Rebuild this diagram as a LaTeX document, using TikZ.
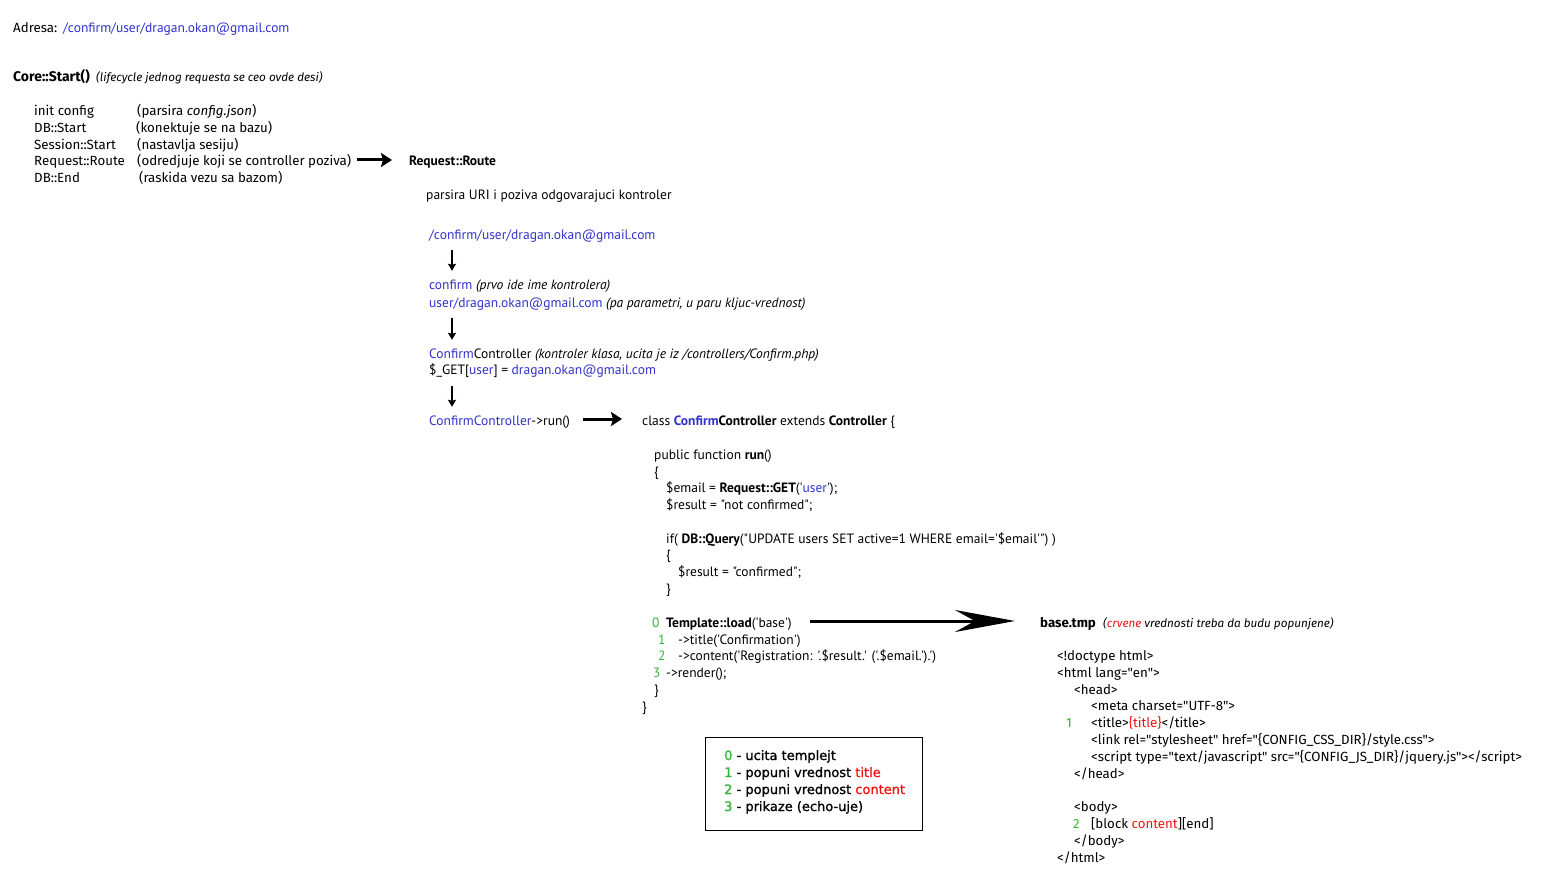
\documentclass[tikz,border=0pt]{standalone}
\usepackage{fontspec}
\setmainfont{PT Sans}[Ligatures=TeXOff]
\newfontfamily\firafont{Fira Sans}[Ligatures=TeXOff]
\newfontfamily\legfont{DejaVu Sans}[Ligatures=TeXOff, FakeBold=1.2]
\usetikzlibrary{arrows.meta, positioning}

\definecolor{urlblue}{RGB}{50,50,205}
\definecolor{numgreen}{RGB}{55,180,60}
\definecolor{fillred}{RGB}{240,20,20}
\newcommand{\bl}[1]{\textcolor{urlblue}{#1}}
\newcommand{\gr}[1]{\textcolor{numgreen}{#1}}
\newcommand{\rd}[1]{\textcolor{fillred}{#1}}

\begin{document}
\begin{tikzpicture}[
  x=1pt, y=-1pt,
  txt/.style={anchor=west, inner sep=0pt, text height=12pt, text depth=0pt},
  code/.style={txt, font=\fontsize{13.5}{16}\selectfont},
  plain/.style={txt, font=\firafont\fontsize{13.3}{16}\selectfont},
  head/.style={txt, font=\firafont\bfseries\fontsize{14}{17}\selectfont},
  note/.style={txt, font=\firafont\itshape\fontsize{11.7}{14}\selectfont},
  num/.style={txt, text=numgreen, font=\fontsize{13.5}{16}\selectfont},
  legtxt/.style={txt, font=\legfont\fontsize{13}{16}\selectfont},
  legbox/.style={draw=black, line width=0.8pt, minimum width=217pt, minimum height=93pt, anchor=north west, inner sep=0pt},
  bigarrow/.style={-{Stealth[length=11pt, width=14pt, inset=2pt]}, line width=3pt},
  longarrow/.style={-{Stealth[length=60pt, width=22pt, inset=20pt]}, line width=3pt},
  downarrow/.style={-{Stealth[length=7pt, width=8pt, inset=1pt]}, line width=1.5pt}
]
\useasboundingbox[fill=white] (0,0) rectangle (1541,885);

% Adresa
\node[plain] (adresa) at (13,27) {Adresa:};
\node[code, text=urlblue] (adresaurl) at (63,27) {/confirm/user/dragan.okan@gmail.com};

% Core::Start lifecycle
\node[head] (core) at (13,76) {Core::Start()};
\node[note] (corenote) at (96,76) {(lifecycle jednog requesta se ceo ovde desi)};

\node[plain] (cfg) at (34,110) {init config};
\node[plain] (cfgnote) at (137,110) {(parsira \textit{config.json})};
\node[plain] (dbs) at (34,127) {DB::Start};
\node[plain] (dbsnote) at (136,127) {(konektuje se na bazu)};
\node[plain] (sess) at (34,144) {Session::Start};
\node[plain] (sessnote) at (137,144) {(nastavlja sesiju)};
\node[plain] (route) at (34,160) {Request::Route};
\node[plain] (routenote) at (137,160) {(odredjuje koji se controller poziva)};
\node[plain] (dbe) at (34,177) {DB::End};
\node[plain] (dbenote) at (139,177) {(raskida vezu sa bazom)};

% Request::Route
\node[code, font=\bfseries\fontsize{13.5}{16}\selectfont] (rr) at (409,160) {Request::Route};
\draw[bigarrow, shorten <=6pt, shorten >=17pt] (routenote.east) -- (rr.west);

\node[code] (rrdesc) at (426,194) {parsira URI i poziva odgovarajuci kontroler};
\node[code, text=urlblue] (uri) at (429,234) {/confirm/user/dragan.okan@gmail.com};
\node[code] (ctrl) at (429,284) {\bl{confirm} \textit{(prvo ide ime kontrolera)}};
\node[code] (params) at (429,301) {\bl{user/dragan.okan@gmail.com} \textit{(pa parametri, u paru kljuc-vrednost)}};
\node[code] (cls) at (429,352) {\bl{Confirm}Controller \textit{(kontroler klasa, ucita je iz /controllers/Confirm.php)}};
\node[code] (get) at (429,368) {\$\_GET[\bl{user}] = \bl{dragan.okan@gmail.com}};
\node[code] (run) at (429,419) {\bl{ConfirmController}->run()};

\draw[downarrow, shorten <=10pt, shorten >=7pt] ([xshift=23pt]uri.south west) -- ([xshift=23pt]ctrl.north west);
\draw[downarrow, shorten <=11pt, shorten >=6pt] ([xshift=23pt]params.south west) -- ([xshift=23pt]cls.north west);
\draw[downarrow, shorten <=12pt, shorten >=6pt] ([xshift=23pt]get.south west) -- ([xshift=23pt]run.north west);

% ConfirmController class
\node[code] (clsdef) at (642,419) {class \textbf{\bl{Confirm}Controller} extends \textbf{Controller} \{};
\draw[bigarrow, shorten <=13pt, shorten >=20pt] (run.east) -- (clsdef.west);

\node[code] (pub) at (654,453) {public function \textbf{run}()};
\node[code] (open1) at (654,470) {\{};
\node[code] (email) at (666,486) {\$email = \textbf{Request::GET}('\bl{user}');};
\node[code] (res1) at (666,503) {\$result = "not confirmed";};
\node[code] (query) at (666,537) {if( \textbf{DB::Query}("UPDATE users SET active=1 WHERE email='\$email'") )};
\node[code] (open2) at (666,553) {\{};
\node[code] (res2) at (678,570) {\$result = "confirmed";};
\node[code] (close2) at (666,587) {\}};

\node[num] (n0) at (652,621) {0};
\node[code] (load) at (666,621) {\textbf{Template::load}('base')};
\node[num] (n1) at (658,638) {1};
\node[code] (title) at (678,638) {->title('Confirmation')};
\node[num] (n2) at (658,654) {2};
\node[code] (content) at (678,654) {->content('Registration: '.\$result.' ('.\$email.').')};
\node[num] (n3) at (653,671) {3};
\node[code] (render) at (666,671) {->render();};
\node[code] (close1) at (654,688) {\}};
\node[code] (close0) at (642,705) {\}};

% base.tmp template
\node[head, font=\firafont\bfseries\fontsize{13.3}{16}\selectfont] (base) at (1040,621) {base.tmp};
\node[note] (basenote) at (1103,621) {(\rd{crvene} vrednosti treba da budu popunjene)};
\draw[longarrow, shorten <=18pt, shorten >=25pt] (load.east) -- (base.west);

\node[plain] (doctype) at (1057,654) {<!doctype html>};
\node[plain] (html) at (1057,671) {<html lang="en">};
\node[plain] (headtag) at (1074,688) {<head>};
\node[plain] (meta) at (1091,704) {<meta charset="UTF-8">};
\node[plain, text=numgreen] (t1) at (1066,721) {1};
\node[plain] (titletag) at (1091,721) {<title>\rd{\{title\}}</title>};
\node[plain] (link) at (1091,738) {<link rel="stylesheet" href="\{CONFIG\_CSS\_DIR\}/style.css">};
\node[plain] (script) at (1091,755) {<script type="text/javascript" src="\{CONFIG\_JS\_DIR\}/jquery.js"></script>};
\node[plain] (headend) at (1074,772) {</head>};
\node[plain] (body) at (1074,805) {<body>};
\node[plain, text=numgreen] (t2) at (1073,822) {2};
\node[plain] (block) at (1091,822) {[block \rd{content}][end]};
\node[plain] (bodyend) at (1074,839) {</body>};
\node[plain] (htmlend) at (1057,856) {</html>};

% legend
\node[legbox] (legend) at (705,737) {};
\node[legtxt] (leg0) at (724,754) {\gr{0} - ucita templejt};
\node[legtxt] (leg1) at (724,771) {\gr{1} - popuni vrednost \rd{title}};
\node[legtxt] (leg2) at (724,788) {\gr{2} - popuni vrednost \rd{content}};
\node[legtxt] (leg3) at (724,805) {\gr{3} - prikaze (echo-uje)};

\end{tikzpicture}
\end{document}
